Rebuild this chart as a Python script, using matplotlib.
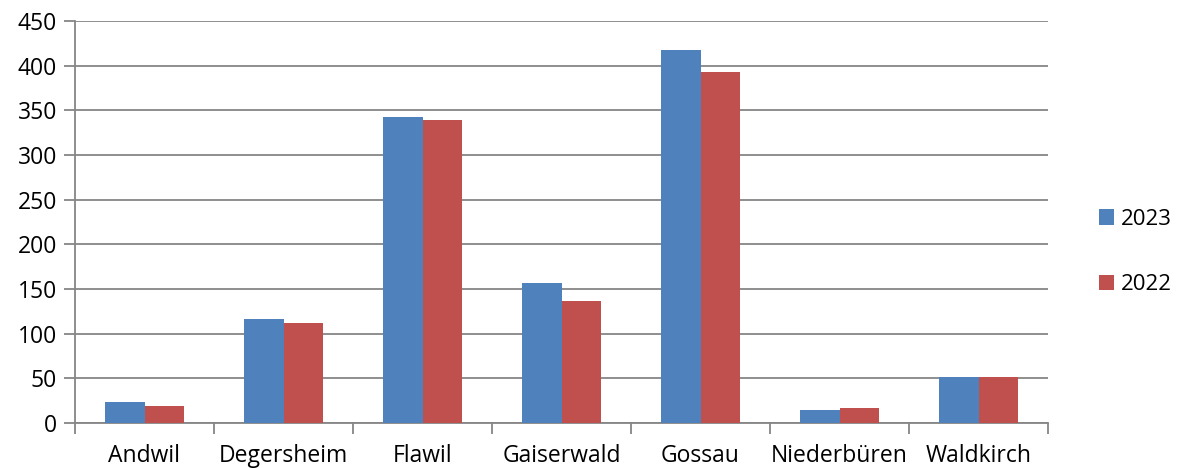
import numpy as np
import matplotlib.pyplot as plt

plt.rcParams['font.family'] = ['Open Sans', 'DejaVu Sans']

# data
gemeinden = ['Andwil', 'Degersheim', 'Flawil', 'Gaiserwald', 'Gossau', 'Niederbüren', 'Waldkirch']
werte_2023 = [23, 116, 343, 157, 417, 15, 51]
werte_2022 = [19, 112, 339, 137, 393, 17, 51]

blau = '#4f81bd'
rot = '#c0504d'
grau = '#868686'

fig = plt.figure(figsize=(11.78, 4.68), dpi=100)
ax = fig.add_axes([75/1178, 1-423/468, (1048-75)/1178, (423-21)/468])

x = np.arange(len(gemeinden))
w = 0.285
ax.bar(x - w/2, werte_2023, w, color=blau, label='2023', zorder=3)
ax.bar(x + w/2, werte_2022, w, color=rot, label='2022', zorder=3)

ax.set_xlim(-0.5, len(gemeinden) - 0.5)
ax.set_ylim(0, 450)
ax.set_yticks(np.arange(0, 451, 50))
ax.yaxis.grid(True, color=grau, linewidth=1.3, zorder=0)
ax.tick_params(axis='y', length=8, width=1.3, color=grau, labelsize=16.5, pad=5)

ax.set_xticks(x)
ax.set_xticklabels(gemeinden, fontsize=16.5)
ax.tick_params(axis='x', length=0, pad=15)
ax.set_xticks(np.arange(-0.5, len(gemeinden)), minor=True)
ax.tick_params(axis='x', which='minor', length=8, width=1.3, color=grau)

for s in ['top', 'right']:
    ax.spines[s].set_visible(False)
for s in ['left', 'bottom']:
    ax.spines[s].set_color(grau)
    ax.spines[s].set_linewidth(1.3)

leg = fig.legend(loc='center left', bbox_to_anchor=(1099/1178, 1-252/468), frameon=False,
                 fontsize=16, handlelength=0.68, handleheight=0.68, handletextpad=0.3,
                 labelspacing=2.0, borderpad=0, borderaxespad=0)

fig.savefig('out.png', dpi=100)
